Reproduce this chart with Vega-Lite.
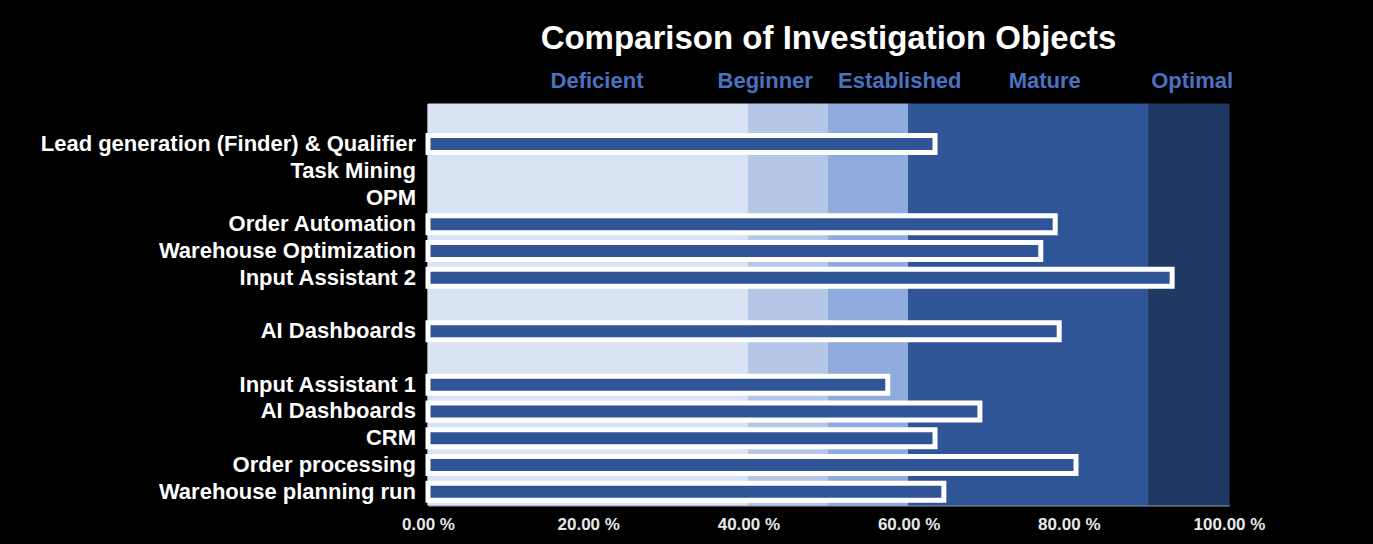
{
  "$schema": "https://vega.github.io/schema/vega-lite/v6.json",
  "width": 801,
  "height": 401,
  "autosize": {"type": "none"},
  "padding": {"left": 428, "top": 104, "right": 144, "bottom": 39},
  "background": "#000000",
  "title": {
    "text": "Comparison of Investigation Objects",
    "color": "#ffffff",
    "font": "Liberation Sans",
    "fontSize": 33,
    "fontWeight": "bold",
    "anchor": "middle",
    "offset": 14
  },
  "config": {
    "view": {"stroke": null},
    "font": "Liberation Sans"
  },
  "datasets": {
    "bands": [
      {"band": "Deficient", "start": 0, "end": 40, "labelAt": 21.1},
      {"band": "Beginner", "start": 40, "end": 50, "labelAt": 42.1},
      {"band": "Established", "start": 50, "end": 60, "labelAt": 58.9},
      {"band": "Mature", "start": 60, "end": 90, "labelAt": 77},
      {"band": "Optimal", "start": 90, "end": 100, "labelAt": 95.4}
    ],
    "rows": [
      {"row": "r01", "label": "Lead generation (Finder) & Qualifier", "value": 63.3},
      {"row": "r02", "label": "Task Mining", "value": null},
      {"row": "r03", "label": "OPM", "value": null},
      {"row": "r04", "label": "Order Automation", "value": 78.3},
      {"row": "r05", "label": "Warehouse Optimization", "value": 76.5},
      {"row": "r06", "label": "Input Assistant 2", "value": 92.9},
      {"row": "r08", "label": "AI Dashboards", "value": 78.8},
      {"row": "r10", "label": "Input Assistant 1", "value": 57.4},
      {"row": "r11", "label": "AI Dashboards", "value": 68.9},
      {"row": "r12", "label": "CRM", "value": 63.3},
      {"row": "r13", "label": "Order processing", "value": 80.9},
      {"row": "r14", "label": "Warehouse planning run", "value": 64.4}
    ]
  },
  "layer": [
    {
      "data": {"name": "bands"},
      "mark": {"type": "rect", "strokeWidth": 1},
      "encoding": {
        "x": {
          "field": "start",
          "type": "quantitative",
          "scale": {"domain": [0, 100], "nice": false, "zero": true},
          "axis": {
            "values": [0, 20, 40, 60, 80, 100],
            "labelExpr": "format(datum.value, '.2f') + ' %'",
            "title": null,
            "grid": false,
            "ticks": false,
            "domainColor": "#9a9a9a",
            "domainWidth": 2,
            "labelColor": "#e8e8e8",
            "labelFont": "Liberation Sans",
            "labelFontWeight": "bold",
            "labelFontSize": 17,
            "labelPadding": 11,
            "labelFlush": false
          }
        },
        "x2": {"field": "end"},
        "color": {
          "field": "band",
          "type": "nominal",
          "scale": {
            "domain": ["Deficient", "Beginner", "Established", "Mature", "Optimal"],
            "range": ["#dae3f3", "#b4c7e7", "#8faadc", "#2f5597", "#203864"]
          },
          "legend": null
        },
        "stroke": {"field": "band", "type": "nominal", "scale": {"domain": ["Deficient", "Beginner", "Established", "Mature", "Optimal"], "range": ["#dae3f3", "#b4c7e7", "#8faadc", "#2f5597", "#203864"]}, "legend": null}
      }
    },
    {
      "data": {"name": "bands"},
      "mark": {"type": "text", "color": "#4a72c0", "fontSize": 22, "fontWeight": "bold", "font": "Liberation Sans", "dy": -36, "baseline": "middle"},
      "encoding": {
        "x": {"field": "labelAt", "type": "quantitative"},
        "y": {"datum": "r00", "type": "ordinal"},
        "text": {"field": "band"}
      }
    },
    {
      "data": {"name": "rows"},
      "mark": {"type": "bar", "fill": "#2f5597", "stroke": "#ffffff", "strokeWidth": 5, "height": 17},
      "encoding": {
        "x": {"field": "value", "type": "quantitative"},
        "y": {
          "field": "row",
          "type": "ordinal",
          "scale": {
            "domain": ["r00", "r01", "r02", "r03", "r04", "r05", "r06", "r07", "r08", "r09", "r10", "r11", "r12", "r13", "r14"],
            "paddingInner": 0,
            "paddingOuter": 0
          },
          "axis": {
            "title": null,
            "labels": false,
            "ticks": false,
            "domainColor": "#9a9a9a",
            "domainWidth": 2
          }
        }
      }
    },
    {
      "data": {"name": "rows"},
      "mark": {"type": "text", "align": "right", "baseline": "middle", "dx": -12, "color": "#ffffff", "fontSize": 22, "fontWeight": "bold", "font": "Liberation Sans"},
      "encoding": {
        "x": {"datum": 0},
        "y": {"field": "row", "type": "ordinal"},
        "text": {"field": "label"}
      }
    }
  ]
}
